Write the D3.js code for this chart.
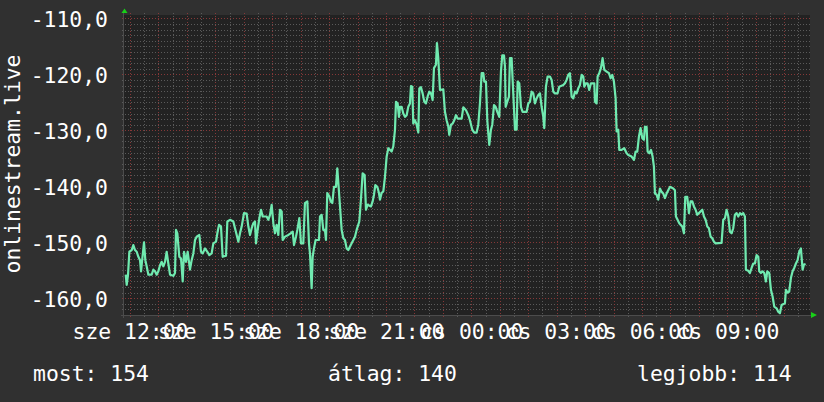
<!DOCTYPE html>
<html><head><meta charset="utf-8">
<script src="https://cdn.jsdelivr.net/npm/d3@7"></script>
<style>
html,body{margin:0;padding:0;background:#303030;}
svg{display:block;}
text{font-family:"DejaVu Sans Mono",monospace;fill:#ffffff;}
</style></head><body>
<svg id="chart" width="824" height="402"></svg>
<script>
// minutes after 12:00 on the first day (sze)
const minutes = [
-9.1,-7.0,-4.2,-1.4,3.5,7.0,10.5,14.1,17.6,21.1,
23.2,26.0,29.5,32.3,35.1,38.7,45.7,49.2,52.7,56.2,
59.7,63.3,66.8,70.3,73.8,77.3,80.8,84.4,91.4,94.9,
97.0,99.8,104.0,107.6,111.1,113.9,118.1,121.6,126.5,130.0,
133.6,137.1,140.6,146.2,149.7,153.2,158.2,163.1,167.3,172.2,
175.7,181.4,184.2,187.7,191.9,195.4,202.5,205.3,210.9,217.9,
221.4,225.0,228.5,232.0,235.5,240.4,246.0,249.6,253.1,256.6,
260.1,263.6,265.7,269.2,272.8,276.3,279.8,288.2,291.7,295.3,
298.8,302.3,305.8,309.3,312.8,316.3,319.9,322.0,326.9,333.9,
338.8,343.1,345.9,350.1,352.9,357.1,
360.6,365.5,369.0,374.0,377.5,379.6,383.1,385.2,388.0,391.5,
398.6,400.7,404.2,407.7,411.2,413.3,416.1,420.4,423.2,426.7,
430.2,434.4,437.2,440.0,442.9,446.4,449.9,453.4,456.9,460.4,
467.5,474.5,478.0,483.6,487.1,490.7,494.9,497.7,501.2,508.2,
511.8,514.6,517.4,521.6,525.1,527.2,530.7,534.3,537.8,541.3,
544.8,551.8,555.3,558.9,561.0,564.5,567.3,569.4,572.9,576.4,
580.0,583.5,587.0,590.5,592.6,595.4,597.5,601.0,604.6,608.1,
610.2,613.7,617.2,620.7,624.2,627.7,631.3,634.8,638.3,641.1,
645.3,647.4,650.2,653.8,660.8,664.3,667.8,671.3,673.4,677.0,
680.5,684.0,687.5,691.0,699.5,703.0,708.6,713.5,
717.0,722.0,726.2,731.1,734.6,738.1,741.7,745.2,747.3,750.8,
753.6,755.7,757.8,761.3,764.1,767.7,771.2,774.7,778.9,782.4,
785.2,788.8,790.9,792.3,795.8,799.3,801.4,804.9,808.4,812.0,
815.5,817.6,821.1,824.6,828.1,836.6,840.1,843.6,847.1,850.6,
854.1,857.6,861.2,864.7,868.2,871.7,873.8,877.3,880.8,885.8,
889.3,892.8,896.3,901.9,905.4,913.9,917.4,920.9,924.4,927.9,
931.5,935.0,938.5,942.0,945.5,949.0,952.6,956.1,958.2,961.7,
965.2,968.7,972.2,979.3,980.7,984.2,986.3,989.8,993.3,996.8,
1000.4,1005.3,1010.2,1013.7,1017.2,1020.7,1024.3,1026.4,1029.9,1032.0,
1036.9,1042.5,1047.5,1051.0,
1058.0,1062.9,1066.5,1070.0,1073.5,1077.0,1080.5,1084.0,1086.1,1089.7,
1091.8,1095.3,1098.8,1102.3,1105.1,1107.2,1110.7,1114.3,1117.8,1121.3,
1124.8,1128.3,1131.8,1135.3,1138.9,1145.9,1149.4,1151.5,1155.0,1158.5,
1161.4,1164.9,1168.4,1171.2,1175.4,1178.9,1182.4,1186.0,1189.5,1193.0,
1196.5,1200.0,1207.1,1210.6,1214.1,1217.6,1221.1,1224.6,1228.1,1231.7,
1235.2,1247.8,1251.3,1254.9,1258.4,1261.9,1265.4,1268.9,1272.4,1275.9,
1279.5,1283.0,1286.5,1290.0,1293.5,1297.0,1299.1,1304.1,1307.6,1311.1,
1314.6,1318.1,1321.6,1325.2,1327.3,1330.8,1334.3,1337.8,1341.3,1344.1,
1348.4,1351.9,1355.4,1358.9,1363.8,1367.3,1370.9,1374.4,1381.4,1383.5,
1387.0,1390.5,1394.0,1397.6,1401.1,1404.6,1408.1,1411.6,1415.1,1418.7,
1421.5,1425.0
];
const values = [
-155.8,-157.6,-155.8,-151.7,-151.4,-150.5,-151.4,-151.7,-152.6,-153.2,
-155.2,-152.9,-150.0,-153.2,-154.3,-155.8,-155.8,-154.9,-155.2,-155.8,
-155.2,-154.1,-153.5,-154.3,-153.5,-151.7,-153.8,-155.8,-156.0,-155.5,
-147.8,-148.4,-152.6,-152.9,-157.0,-151.7,-153.5,-151.7,-154.9,-153.2,
-152.0,-149.6,-149.0,-148.7,-151.7,-152.0,-151.1,-151.7,-152.3,-152.0,
-150.2,-149.9,-148.4,-146.9,-147.2,-152.6,-152.4,-146.3,-146.0,-146.3,
-147.5,-148.7,-149.9,-148.4,-147.2,-144.8,-144.9,-147.2,-148.7,-147.5,
-146.6,-146.3,-150.2,-147.8,-145.7,-144.2,-145.4,-145.4,-146.0,-145.1,
-143.3,-146.6,-148.4,-146.9,-148.7,-144.2,-144.5,-149.6,-149.0,-148.7,
-148.4,-148.1,-150.5,-149.0,-147.8,-145.7,
-150.2,-150.2,-143.0,-142.7,-150.2,-152.0,-158.2,-152.6,-151.1,-149.6,
-149.6,-145.4,-145.1,-147.8,-147.8,-149.6,-141.2,-141.8,-142.7,-143.0,
-140.1,-140.1,-136.8,-140.1,-143.6,-147.8,-149.3,-149.6,-151.1,-151.4,
-150.2,-149.0,-147.8,-146.3,-142.4,-137.7,-138.0,-144.2,-143.3,-143.6,
-142.7,-141.5,-139.8,-140.1,-141.2,-142.4,-141.2,-140.9,-138.3,-134.7,
-133.2,-133.8,-132.9,-129.9,-124.9,-125.2,-127.6,-125.8,-125.8,-127.0,
-127.6,-127.3,-125.8,-125.2,-122.1,-122.2,-128.8,-128.2,-129.0,-130.4,
-122.5,-122.3,-123.4,-124.9,-125.2,-124.0,-123.1,-123.4,-124.6,-118.9,
-118.3,-114.4,-117.1,-122.8,-122.7,-126.7,-128.2,-129.3,-130.8,-129.0,
-128.8,-128.2,-127.3,-127.9,-127.9,-125.9,-126.4,-127.3,
-128.2,-129.9,-130.4,-130.4,-129.0,-125.2,-119.8,-119.8,-121.3,-121.3,
-128.2,-130.5,-132.6,-129.9,-129.0,-125.5,-125.8,-126.7,-127.6,-119.5,
-116.6,-116.6,-118.6,-125.8,-124.9,-124.0,-117.1,-117.1,-123.4,-129.9,
-129.9,-121.3,-121.6,-125.8,-126.7,-126.7,-125.2,-124.9,-123.1,-123.4,
-125.2,-124.3,-123.7,-123.4,-125.8,-127.6,-129.6,-122.2,-120.4,-120.4,
-121.0,-123.1,-123.4,-123.4,-122.2,-121.9,-121.6,-121.0,-120.1,-119.8,
-124.0,-124.3,-123.1,-123.4,-122.5,-121.9,-120.1,-120.4,-122.2,-121.6,
-121.6,-122.8,-121.6,-121.6,-124.9,-125.2,-120.4,-119.8,-118.9,-117.1,
-119.2,-119.5,-119.8,-120.7,-120.1,-121.3,-124.3,-130.2,-129.9,-133.5,
-133.5,-133.2,-134.1,-134.4,
-134.7,-135.3,-133.8,-133.8,-131.1,-129.6,-131.4,-131.7,-129.4,-129.4,
-133.8,-134.1,-133.5,-134.7,-136.5,-141.3,-141.5,-142.4,-140.4,-141.0,
-141.3,-142.1,-141.3,-140.7,-140.1,-140.4,-140.7,-145.4,-146.0,-146.6,
-146.9,-147.2,-148.4,-141.9,-141.9,-144.8,-142.7,-142.7,-143.6,-144.2,
-145.1,-144.8,-144.2,-145.4,-146.0,-147.2,-147.5,-149.0,-149.3,-149.9,
-150.2,-150.1,-146.0,-145.7,-144.2,-145.4,-148.1,-148.4,-147.5,-145.1,
-144.8,-145.4,-144.8,-145.1,-144.8,-145.4,-154.9,-155.1,-155.5,-154.6,
-153.8,-153.8,-152.3,-152.6,-155.2,-155.5,-155.2,-155.5,-157.0,-155.2,
-155.5,-158.5,-159.7,-161.5,-161.8,-162.4,-162.7,-161.2,-160.9,-158.5,
-159.0,-158.8,-156.4,-155.2,-154.6,-153.8,-153.2,-151.7,-151.1,-154.9,
-154.0,-153.9
];
const yTicks = [-160, -150, -140, -130, -120, -110];
const xTickHours = [0, 3, 6, 9, 12, 15, 18, 21];
const xTickLabels = ["sze 12:00","sze 15:00","sze 18:00","sze 21:00","cs 00:00","cs 03:00","cs 06:00","cs 09:00"];
const yTitle = "onlinestream.live";
const legendLabels = ["most: 154", "átlag: 140", "legjobb: 114"];

const base = new Date(2024, 8, 11, 12, 0);
const t = m => new Date(base.getTime() + m * 60000);
const data = minutes.map((m, i) => ({ t: t(m), v: values[i] }));

const L = 124, R = 810, T = 15, B = 315;
const FS = "21.4px";
const svg = d3.select("#chart");
const x = d3.scaleTime().domain([t(-12.7), t(1434.3)]).range([L, R]);
const y = d3.scaleLinear().domain([-163, -109.4]).range([B, T]);

svg.append("rect").attr("x", L).attr("y", T).attr("width", R - L).attr("height", B - T).attr("fill", "#222222");

const g = svg.append("g");
const px = v => Math.round(v) + 0.5;
const minorCol = "#5a5a5a", majorCol = "#853838", dash = "1,2";
// minor horizontal grid
d3.range(-162, -109, 1).filter(v => v % 10 !== 0).forEach(v => {
  g.append("line").attr("x1", L - 2).attr("x2", R).attr("y1", px(y(v))).attr("y2", px(y(v)))
   .attr("stroke", minorCol).attr("stroke-dasharray", dash);
});
// minor vertical grid (30 min)
d3.range(0, 1440, 30).filter(m => m % 60 !== 0).forEach(m => {
  const xx = px(x(t(m)));
  if (xx < L || xx > R) return;
  g.append("line").attr("x1", xx).attr("x2", xx).attr("y1", T - 2).attr("y2", B + 2)
   .attr("stroke", minorCol).attr("stroke-dasharray", dash);
});
// major grid
yTicks.forEach(v => {
  g.append("line").attr("x1", L - 2).attr("x2", R).attr("y1", px(y(v))).attr("y2", px(y(v)))
   .attr("stroke", majorCol).attr("stroke-dasharray", dash);
});
d3.range(0, 1440, 60).forEach(m => {
  const xx = px(x(t(m)));
  if (xx < L || xx > R) return;
  g.append("line").attr("x1", xx).attr("x2", xx).attr("y1", T - 2).attr("y2", B + 2)
   .attr("stroke", majorCol).attr("stroke-dasharray", dash);
});

// axis lines
svg.append("line").attr("x1", L - 0.5).attr("x2", L - 0.5).attr("y1", 12).attr("y2", B + 3).attr("stroke", "#4c4c4c");
svg.append("line").attr("x1", L - 3).attr("x2", R + 2).attr("y1", B + 0.5).attr("y2", B + 0.5).attr("stroke", "#4c4c4c");

// data line
svg.append("path").datum(data)
  .attr("fill", "none").attr("stroke", "#70eab0").attr("stroke-width", 2.2)
  .attr("stroke-linejoin", "round")
  .attr("d", d3.line().x(d => x(d.t)).y(d => y(d.v)));

// arrows
svg.append("path").attr("d", "M121.5,13 L127.5,13 L124.5,8.5 Z").attr("fill", "#18d018");
svg.append("path").attr("d", "M811,312 L811,318 L817,315 Z").attr("fill", "#18d018");

// axes text
const loc = d3.formatLocale({ decimal: ",", thousands: " ", grouping: [3], currency: ["", ""], minus: "-" });
const fmt = loc.format(".1f");
const yAxis = svg.append("g").attr("transform", `translate(${L},0)`)
  .call(d3.axisLeft(y).tickValues(yTicks).tickFormat(fmt).tickSize(0).tickPadding(16));
yAxis.select(".domain").remove();
yAxis.selectAll("text").attr("dy", "0.37em").style("font-size", FS).style("font-family", "'DejaVu Sans Mono',monospace").attr("fill", "#fff");

const xAxis = svg.append("g").attr("transform", `translate(0,${B})`)
  .call(d3.axisBottom(x).tickValues(xTickHours.map(h => t(h * 60))).tickFormat((d, i) => xTickLabels[i]).tickSize(0));
xAxis.select(".domain").remove();
xAxis.selectAll("text").attr("y", 24).attr("dy", 0).style("font-size", FS).style("font-family", "'DejaVu Sans Mono',monospace").attr("fill", "#fff");

svg.append("text").attr("transform", "translate(20,164) rotate(-90)").attr("text-anchor", "middle")
  .style("font-size", FS).text(yTitle);

const legendX = [33, 328, 637];
legendLabels.forEach((s, i) => {
  svg.append("text").attr("x", legendX[i]).attr("y", 381).style("font-size", FS).text(s);
});
</script>
</body></html>
